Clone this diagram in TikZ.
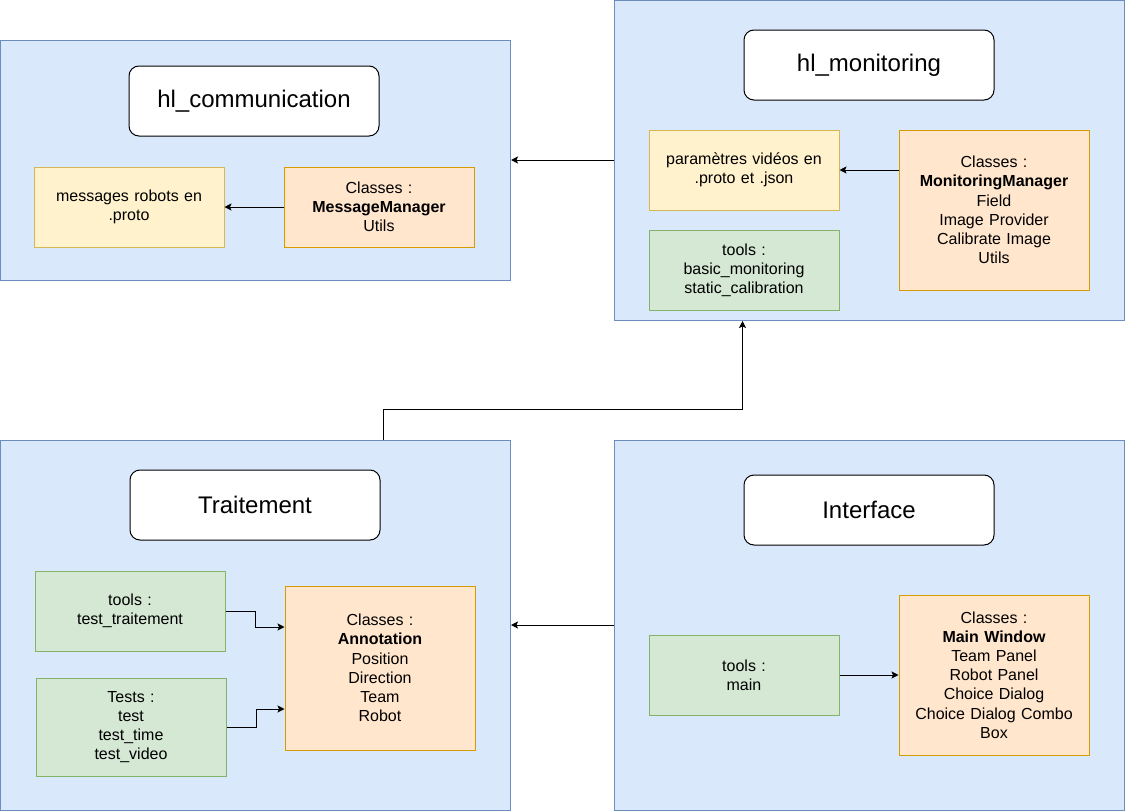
\documentclass[tikz,border=0pt]{standalone}
\usepackage{fontspec}
\setmainfont{Liberation Sans}
\usetikzlibrary{arrows.meta}
\definecolor{cblueF}{HTML}{DAE8FC}
\definecolor{cblueD}{HTML}{6C8EBF}
\definecolor{cyelF}{HTML}{FFF2CC}
\definecolor{cyelD}{HTML}{D6B656}
\definecolor{corF}{HTML}{FFE6CC}
\definecolor{corD}{HTML}{D79B00}
\definecolor{cgrF}{HTML}{D5E8D4}
\definecolor{cgrD}{HTML}{82B366}
\tikzset{
  box/.style={draw, line width=1pt, align=center, inner sep=0pt,
    font=\fontsize{16}{19.2}\selectfont},
  container/.style={box, fill=cblueF, draw=cblueD},
  titlebox/.style={box, fill=white, draw=black, rounded corners=10pt,
    minimum width=250pt, minimum height=70pt, font=\fontsize{24}{28}\selectfont},
  yelbox/.style={box, fill=cyelF, draw=cyelD, minimum width=190pt, text width=180pt},
  orbox/.style={box, fill=corF, draw=corD, minimum width=190pt, text width=180pt},
  grbox/.style={box, fill=cgrF, draw=cgrD, minimum width=190pt, text width=180pt},
  arr/.style={line width=1pt, -{Stealth[length=7pt,width=7pt,inset=1.5pt]}},
}
\begin{document}
\begin{tikzpicture}[x=1pt,y=-1pt]
\useasboundingbox (0,0) rectangle (1125,811);
% containers
\node[container, minimum width=510pt, minimum height=240pt] (hlcom) at (255.5,160) {};
\node[container, minimum width=510pt, minimum height=320pt] (hlmon) at (869.5,160.5) {};
\node[container, minimum width=510pt, minimum height=370pt] (trait) at (255.5,625) {};
\node[container, minimum width=510pt, minimum height=370pt] (intf) at (869.5,625) {};
% hl_communication
\node[titlebox] (comtitle) at (254,101) {hl\_communication};
\node[yelbox, minimum height=80pt] (comyel) at (129,207) {messages robots en\\.proto};
\node[orbox, minimum height=80pt] (comor) at (379,207) {Classes :\\\textbf{MessageManager}\\Utils};
% hl_monitoring
\node[titlebox] (montitle) at (869,65) {hl\_monitoring};
\node[yelbox, minimum height=80pt] (monyel) at (744,170) {paramètres vidéos en\\.proto et .json};
\node[grbox, minimum height=80pt] (mongr) at (744,270) {tools :\\basic\_monitoring\\static\_calibration};
\node[orbox, minimum height=160pt] (monor) at (994,210) {Classes :\\\textbf{MonitoringManager}\\Field\\Image Provider\\Calibrate Image\\Utils};
% Traitement
\node[titlebox] (traittitle) at (255,505) {Traitement};
\node[grbox, minimum height=80pt] (traitgrA) at (130,611) {tools :\\test\_traitement};
\node[grbox, minimum height=98pt] (traitgrB) at (131,727) {Tests :\\test\\test\_time\\test\_video};
\node[orbox, minimum height=164pt] (traitor) at (380,668) {Classes :\\\textbf{Annotation}\\Position\\Direction\\Team\\Robot};
% Interface
\node[titlebox] (intftitle) at (869,510) {Interface};
\node[grbox, minimum height=80pt] (intfgr) at (744,675) {tools :\\main};
\node[orbox, minimum height=160pt] (intfor) at (994,675) {Classes :\\\textbf{Main Window}\\Team Panel\\Robot Panel\\Choice Dialog\\Choice Dialog Combo\\Box};
% connectors
\draw[arr] (comor.west) -- (comyel.east);
\draw[arr] (monor.west |- monyel.east) -- (monyel.east);
\draw[arr] (hlmon.west |- hlcom.east) -- (hlcom.east);
\draw[arr] (traitgrA.east) -- ++(30,0) |- ([yshift=41pt]traitor.west);
\draw[arr] (traitgrB.east) -- ++(30,0) |- ([yshift=-41pt]traitor.west);
\draw[arr] (intfgr.east) -- (intfor.west);
\draw[arr] (intf.west |- trait.east) -- (trait.east);
\draw[arr] ([xshift=128pt]trait.north) -- ++(0,-30) -| ([xshift=-127pt]hlmon.south);
\end{tikzpicture}
\end{document}
